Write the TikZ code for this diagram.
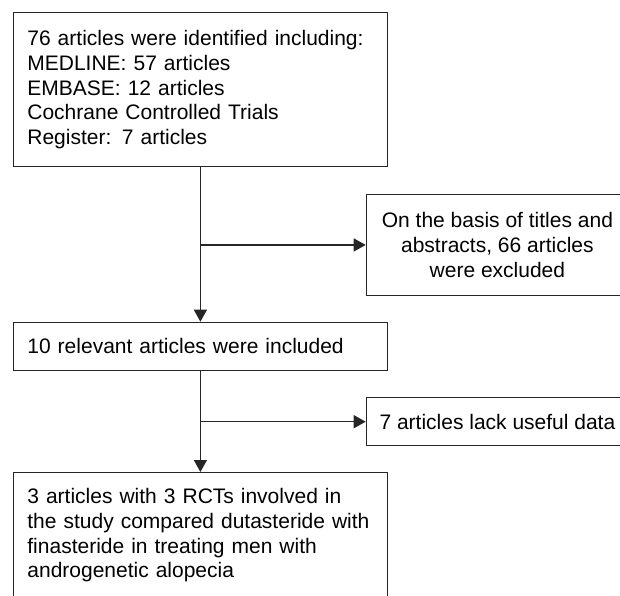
\documentclass[tikz,border=0pt]{standalone}
\usepackage{fontspec}
\setmainfont{Liberation Sans}
\usetikzlibrary{arrows.meta}

\def\boxfont{\fontsize{10.5}{12.3}\selectfont}

\begin{document}
\begin{tikzpicture}[x=0.5pt,y=-0.5pt,draw=black!85,line width=0.7pt]
    \tikzstyle{leftbox}=[rectangle, draw, anchor=north west, font=\boxfont,
        text width=173pt, inner xsep=7pt, align=left]
    \tikzstyle{sidebox}=[rectangle, draw, anchor=north west, font=\boxfont,
        minimum width=131pt, align=center]
    \tikzstyle{arr}=[-{Triangle[length=6pt,width=6.5pt]}]

    \useasboundingbox (0,0) rectangle (620,595);

    % Draw the main column of boxes
    \node[leftbox, minimum height=77pt] (ident) at (12.7,12)
        {76 articles were identified including:\\ MEDLINE: 57 articles\\
         EMBASE: 12 articles\\ Cochrane Controlled Trials\\ Register: 7 articles};
    \node[leftbox, minimum height=24pt] (rel) at (12.7,321.7)
        {10 relevant articles were included};
    \node[leftbox, inner ysep=8pt] (final) at (12.7,472)
        {3 articles with 3 RCTs involved in\\ the study compared dutasteride with\\
         finasteride in treating men with\\ androgenetic alopecia};

    % Draw the excluded boxes on the right
    \node[sidebox, minimum height=50.75pt] (excl) at (365.7,193.5)
        {On the basis of titles and\\ abstracts, 66 articles\\ were excluded};
    \node[sidebox, minimum height=24pt] (lack) at (365.7,397)
        {7 articles lack useful data};

    % Connect the boxes
    \draw[arr] (ident.south) -- (rel.north);
    \draw[arr] (rel.south) -- (final.north);
    \draw[arr] (ident.south |- excl.west) -- (excl.west);
    \draw[arr] (rel.south |- lack.west) -- (lack.west);
\end{tikzpicture}
\end{document}
